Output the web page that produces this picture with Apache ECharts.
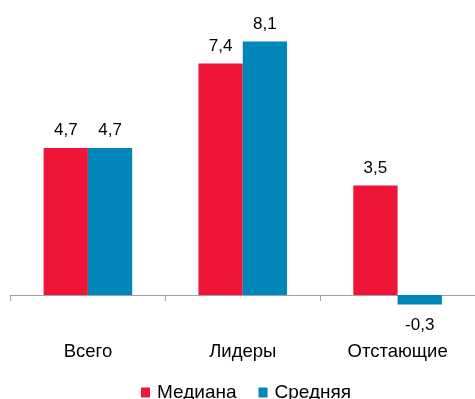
<!DOCTYPE html>
<html>
<head>
<meta charset="utf-8">
<script src="https://cdn.jsdelivr.net/npm/echarts@6/dist/echarts.min.js"></script>
<style>
  html, body { margin: 0; padding: 0; background: #fff; }
  #chart { width: 475px; height: 399px; }
</style>
</head>
<body>
<div id="chart"></div>
<script>
// категории и значения
const categories = ['Всего', 'Лидеры', 'Отстающие']
const medianValues = [4.7, 7.4, 3.5]
const meanValues = [4.7, 8.1, -0.3]
const seriesNames = ['Медиана', 'Средняя']

const font = '"Liberation Sans", Arial, sans-serif'
const fmt = p => String(p.value).replace('.', ',')

// отрицательные значения подписываем снизу
const toData = arr => arr.map(v => v < 0
  ? { value: v, label: { position: 'bottom', distance: 12 } }
  : v)

const chart = echarts.init(document.getElementById('chart'))
chart.setOption({
  animation: false,
  grid: {
    left: 10.5,
    top: 13.3,
    width: 467,
    height: 313
  },
  legend: {
    data: seriesNames,
    left: 141,
    top: 383,
    padding: 0,
    icon: 'rect',
    itemWidth: 9,
    itemHeight: 10,
    itemGap: 22,
    textStyle: { fontFamily: font, fontSize: 19, color: '#000', padding: [0, 0, 0, 2] }
  },
  xAxis: {
    type: 'category',
    data: categories,
    axisLine: { lineStyle: { color: '#a0a0a0', width: 1 } },
    axisTick: { show: true, length: 6, lineStyle: { color: '#a0a0a0' } },
    axisLabel: { margin: 16, fontFamily: font, fontSize: 18.5, color: '#000' }
  },
  yAxis: {
    type: 'value',
    min: -1,
    max: 9,
    show: false,
    splitLine: { show: false }
  },
  series: [
    {
      name: seriesNames[0],
      type: 'bar',
      data: toData(medianValues),
      barWidth: 44.3,
      barGap: '0%',
      itemStyle: { color: '#ee1538' },
      label: { show: true, position: 'top', distance: 9, formatter: fmt, fontFamily: font, fontSize: 17, color: '#000' }
    },
    {
      name: seriesNames[1],
      type: 'bar',
      data: toData(meanValues),
      barWidth: 44.3,
      barGap: '0%',
      itemStyle: { color: '#0086b9' },
      label: { show: true, position: 'top', distance: 9, formatter: fmt, fontFamily: font, fontSize: 17, color: '#000' }
    }
  ]
})
</script>
</body>
</html>
